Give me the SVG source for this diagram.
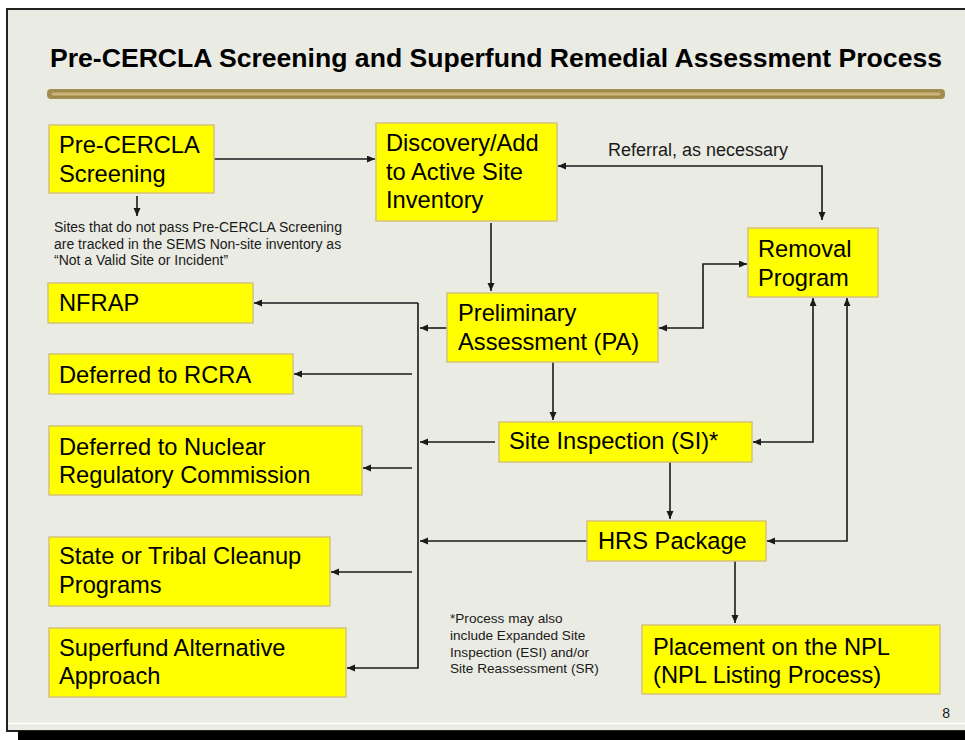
<svg xmlns="http://www.w3.org/2000/svg" width="965" height="740" viewBox="0 0 965 740">
<style>
.box{fill:#ffff00;stroke:#d6c27c;stroke-width:1.5}
.nt{font-family:"Liberation Sans",Arial,sans-serif;font-size:23.7px;fill:#000}
.sm{font-family:"Liberation Sans",Arial,sans-serif;fill:#1a1a1a}
.c{fill:none;stroke:#1a1a1a;stroke-width:1.6}
</style>
<defs>
<marker id="ah" markerUnits="userSpaceOnUse" markerWidth="9" markerHeight="8" refX="8" refY="3.5" orient="auto-start-reverse">
<path d="M0,0 L8,3.5 L0,7 z" fill="#1a1a1a"/>
</marker>
</defs>
<rect x="0" y="0" width="965" height="740" fill="#ffffff"/>
<rect x="7" y="9" width="962" height="722" fill="#eaebe3" stroke="#222" stroke-width="2"/>
<line x1="8" y1="723.5" x2="965" y2="723.5" stroke="#ffffff" stroke-width="1.5"/>
<rect x="18" y="731" width="947" height="9" fill="#000"/>
<text x="50" y="67" font-family="'Liberation Sans',Arial,sans-serif" font-weight="bold" font-size="26.5" textLength="892" lengthAdjust="spacingAndGlyphs" fill="#000">Pre-CERCLA Screening and Superfund Remedial Assessment Process</text>
<rect x="47" y="89" width="898" height="10" rx="4" fill="#a38e52"/>
<rect x="51" y="92" width="890" height="4" rx="2" fill="#cbb574" stroke="#8e7b43" stroke-width="0.6"/>

<g id="connectors">
<path class="c" d="M214,159 H375" marker-end="url(#ah)"/>
<path class="c" d="M137,196 V216" marker-end="url(#ah)"/>
<path class="c" d="M822,220 V166 H558" marker-start="url(#ah)" marker-end="url(#ah)"/>
<path class="c" d="M491,223 V291" marker-end="url(#ah)"/>
<path class="c" d="M659,328 H703 V264 H747" marker-start="url(#ah)" marker-end="url(#ah)"/>
<path class="c" d="M753,442 H813 V298" marker-start="url(#ah)" marker-end="url(#ah)"/>
<path class="c" d="M767,541 H847 V298" marker-start="url(#ah)" marker-end="url(#ah)"/>
<path class="c" d="M553,362 V420" marker-end="url(#ah)"/>
<path class="c" d="M670,462 V519" marker-end="url(#ah)"/>
<path class="c" d="M735,561 V623" marker-end="url(#ah)"/>
<path class="c" d="M418,303 V668 H347" marker-end="url(#ah)"/>
<path class="c" d="M418,303 H254" marker-end="url(#ah)"/>
<path class="c" d="M447,328 H420" marker-end="url(#ah)"/>
<path class="c" d="M495,442 H420" marker-end="url(#ah)"/>
<path class="c" d="M587,541 H420" marker-end="url(#ah)"/>
<path class="c" d="M412,374 H294" marker-end="url(#ah)"/>
<path class="c" d="M412,468 H363" marker-end="url(#ah)"/>
<path class="c" d="M412,572 H331" marker-end="url(#ah)"/>
</g>

<g id="pre-cercla">
<rect class="box" x="49" y="125" width="165" height="68"/>
<text class="nt" x="59" y="153">Pre-CERCLA</text>
<text class="nt" x="59" y="182">Screening</text>
</g>
<g id="discovery">
<rect class="box" x="376" y="123" width="181" height="98"/>
<text class="nt" x="386" y="151">Discovery/Add</text>
<text class="nt" x="386" y="180">to Active Site</text>
<text class="nt" x="386" y="208">Inventory</text>
</g>
<g id="removal">
<rect class="box" x="748" y="228" width="130" height="69"/>
<text class="nt" x="758" y="257">Removal</text>
<text class="nt" x="758" y="286">Program</text>
</g>
<g id="pa">
<rect class="box" x="447" y="293" width="211" height="69"/>
<text class="nt" x="458" y="321">Preliminary</text>
<text class="nt" x="458" y="350">Assessment (PA)</text>
</g>
<g id="si">
<rect class="box" x="499" y="422" width="253" height="40"/>
<text class="nt" x="509" y="449">Site Inspection (SI)*</text>
</g>
<g id="hrs">
<rect class="box" x="587" y="521" width="179" height="40"/>
<text class="nt" x="598" y="549">HRS Package</text>
</g>
<g id="npl">
<rect class="box" x="642" y="625" width="298" height="69"/>
<text class="nt" x="653" y="655">Placement on the NPL</text>
<text class="nt" x="653" y="683">(NPL Listing Process)</text>
</g>
<g id="nfrap">
<rect class="box" x="48" y="283" width="205" height="40"/>
<text class="nt" x="59" y="311">NFRAP</text>
</g>
<g id="rcra">
<rect class="box" x="49" y="354" width="244" height="40"/>
<text class="nt" x="59" y="383">Deferred to RCRA</text>
</g>
<g id="nrc">
<rect class="box" x="49" y="426" width="313" height="69"/>
<text class="nt" x="59" y="455">Deferred to Nuclear</text>
<text class="nt" x="59" y="483">Regulatory Commission</text>
</g>
<g id="state">
<rect class="box" x="49" y="537" width="281" height="69"/>
<text class="nt" x="59" y="564">State or Tribal Cleanup</text>
<text class="nt" x="59" y="593">Programs</text>
</g>
<g id="saa">
<rect class="box" x="49" y="628" width="297" height="69"/>
<text class="nt" x="59" y="656">Superfund Alternative</text>
<text class="nt" x="59" y="684">Approach</text>
</g>

<g id="notes">
<text class="sm" font-size="14" x="54" y="232">Sites that do not pass Pre-CERCLA Screening</text>
<text class="sm" font-size="14" x="54" y="248.5">are tracked in the SEMS Non-site inventory as</text>
<text class="sm" font-size="14" x="54" y="265">“Not a Valid Site or Incident”</text>
<text class="sm" font-size="18" x="608" y="156">Referral, as necessary</text>
<text class="sm" font-size="13.6" x="450" y="623">*Process may also</text>
<text class="sm" font-size="13.6" x="450" y="640">include Expanded Site</text>
<text class="sm" font-size="13.6" x="450" y="657">Inspection (ESI) and/or</text>
<text class="sm" font-size="13.6" x="450" y="673">Site Reassessment (SR)</text>
<text class="sm" font-size="14" x="950" y="718" text-anchor="end">8</text>
</g>
</svg>
